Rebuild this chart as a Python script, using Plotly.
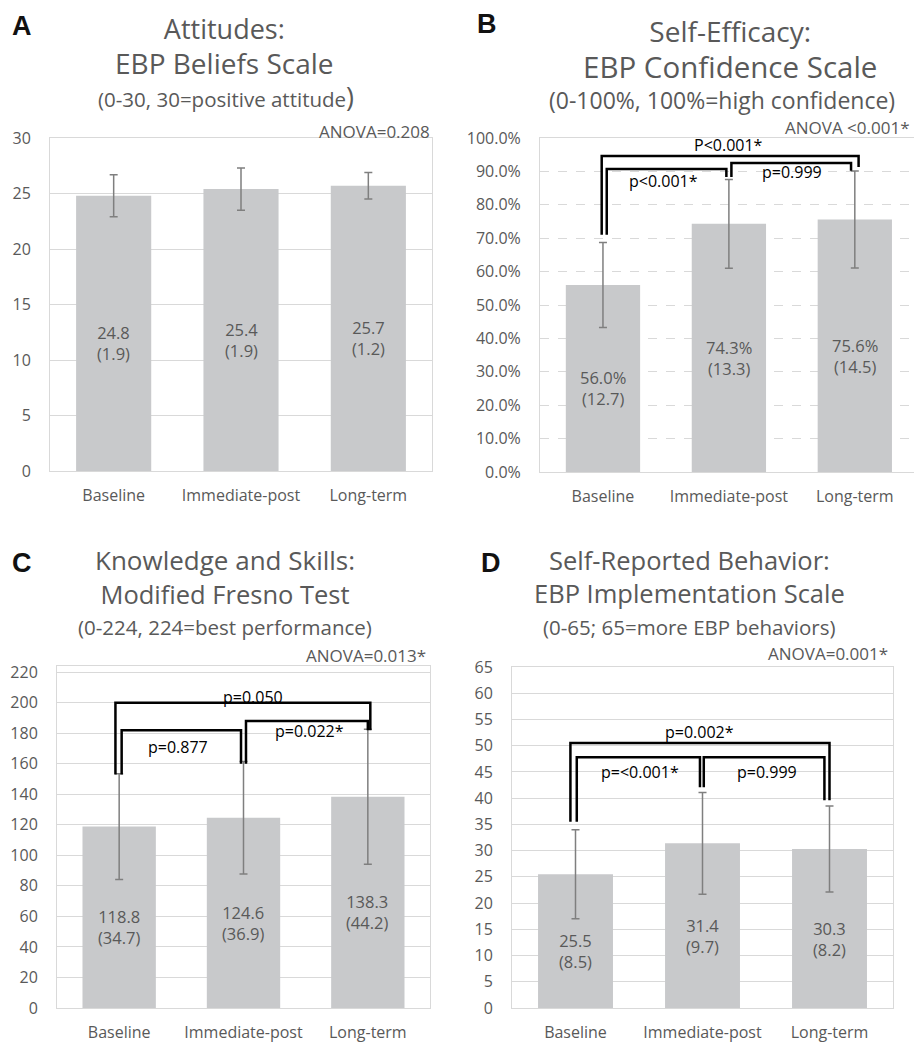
import plotly.graph_objects as go

W, H = 914, 1043

categories = ["Baseline", "Immediate-post", "Long-term"]

a_means = [24.8, 25.4, 25.7]
a_sd = [1.9, 1.9, 1.2]
b_means = [56.0, 74.3, 75.6]
b_sd = [12.7, 13.3, 14.5]
c_means = [118.8, 124.6, 138.3]
c_sd = [34.7, 36.9, 44.2]
d_means = [25.5, 31.4, 30.3]
d_sd = [8.5, 9.7, 8.2]

a_titles = ["Attitudes:", "EBP Beliefs Scale", "(0-30, 30=positive attitude<span style=\"font-size:27px\">)</span>"]
b_titles = ["Self-Efficacy:", "EBP Confidence Scale", "(0-100%, 100%=high confidence)"]
c_titles = ["Knowledge and Skills:", "Modified Fresno Test", "(0-224, 224=best performance)"]
d_titles = ["Self-Reported Behavior:", "EBP Implementation Scale", "(0-65; 65=more EBP behaviors)"]

a_anova = "ANOVA=0.208"
b_anova = "ANOVA <0.001*"
c_anova = "ANOVA=0.013*"
d_anova = "ANOVA=0.001*"

# brackets: (from, to, y_left, y_top, y_right, left_offset, right_offset)
b_brackets = [(0, 2, 71.0, 94.6, 91.3, -0.01, 0.03),
              (0, 1, 71.0, 90.7, 88.3, 0.03, -0.02),
              (1, 2, 88.3, 92.5, 90.2, 0.02, -0.03)]
b_blabels = [("P<0.001*", 1.0, 97.9), ("p<0.001*", 0.48, 87.2), ("p=0.999", 1.5, 89.8)]
c_brackets = [(0, 2, 153.0, 200.0, 182.0, -0.03, 0.02),
              (0, 1, 153.0, 182.0, 160.0, 0.02, -0.02),
              (1, 2, 160.0, 188.0, 182.0, 0.02, 0.0)]
c_blabels = [("p=0.050", 1.08, 204.0), ("p=0.877", 0.47, 171.0), ("p=0.022*", 1.53, 181.5)]
d_brackets = [(0, 2, 35.5, 50.5, 39.6, -0.04, 0.0),
              (0, 1, 35.5, 47.8, 42.1, 0.01, -0.02),
              (1, 2, 42.1, 47.8, 39.6, 0.01, -0.04)]
d_blabels = [("p=0.002*", 0.98, 52.6), ("p=<0.001*", 0.51, 45.0), ("p=0.999", 1.51, 45.0)]

FONT = "Open Sans"
GRAY = "#595959"
BAR = "#c8c9cb"
GRID = "#d9d9d9"


def px(x):
    return x / W


def py(y):
    return 1 - y / H


panels = [
    dict(means=a_means, sd=a_sd, titles=a_titles, anova=a_anova, brackets=[], blabels=[],
         xd=(50, 432), yd=(471, 138), yr=(0, 30), dtick=5, suffix="", fmt="d", griddash="solid",
         xr=(-0.5, 2.5), letter="A", lx=22, ly=26, tx=(224, 226), ty=(46, 97),
         tsize=(27, 28, 20.5), ax=(432, 131), pct=False),
    dict(means=b_means, sd=b_sd, titles=b_titles, anova=b_anova, brackets=b_brackets, blabels=b_blabels,
         xd=(540, 914), yd=(472, 138), yr=(0, 100), dtick=10, suffix="%", fmt=".1f", griddash="dash",
         xr=(-0.5, 2.47), letter="B", lx=487, ly=24, tx=(730, 722), ty=(49.5, 100),
         tsize=(28, 29.5, 23), ax=(912, 128), pct=True),
    dict(means=c_means, sd=c_sd, titles=c_titles, anova=c_anova, brackets=c_brackets, blabels=c_blabels,
         xd=(57, 430), yd=(1008, 666), yr=(0, 224), dtick=20, suffix="", fmt="d", griddash="solid",
         xr=(-0.5, 2.5), letter="C", lx=22, ly=563, tx=(224.5, 225), ty=(576.5, 627),
         tsize=(26, 25.5, 20.5), ax=(428, 655), pct=False),
    dict(means=d_means, sd=d_sd, titles=d_titles, anova=d_anova, brackets=d_brackets, blabels=d_blabels,
         xd=(512, 893), yd=(1008, 667), yr=(0, 65), dtick=5, suffix="", fmt="d", griddash="solid",
         xr=(-0.5, 2.5), letter="D", lx=491, ly=563, tx=(689, 689), ty=(576, 627),
         tsize=(25.5, 25.5, 20.5), ax=(890, 653), pct=False),
]

fig = go.Figure()
annotations = []
layout_axes = {}
xs = [0, 1, 2]

for i, p in enumerate(panels):
    n = "" if i == 0 else str(i + 1)
    xa, ya = "x" + n, "y" + n
    fig.add_trace(go.Bar(
        x=xs, y=p["means"], width=0.59, marker=dict(color=BAR, line=dict(width=0)),
        error_y=dict(type="data", array=p["sd"], visible=True, color="#7f7f7f", thickness=1.5, width=4),
        xaxis=xa, yaxis=ya, showlegend=False, hoverinfo="skip"))
    for (f, t, yl, yt, yrr, lo, ro) in p["brackets"]:
        fig.add_trace(go.Scatter(
            x=[f + lo, f + lo, t + ro, t + ro], y=[yl, yt, yt, yrr], mode="lines",
            line=dict(color="black", width=2.5), xaxis=xa, yaxis=ya, showlegend=False, hoverinfo="skip"))
    for (txt, bx, by) in p["blabels"]:
        annotations.append(dict(text=txt, x=bx, y=by, xref=xa, yref=ya, showarrow=False,
                                font=dict(family=FONT, size=16, color="black"), yanchor="middle"))
    for j, (m, s) in enumerate(zip(p["means"], p["sd"])):
        val = f"{m:.1f}%" if p["pct"] else f"{m:.1f}"
        annotations.append(dict(text=f"{val}<br>({s:.1f})", x=j, y=m / 2, xref=xa, yref=ya,
                                showarrow=False, yshift=-10,
                                font=dict(family=FONT, size=16.5, color=GRAY), yanchor="middle"))
    # two-line main title
    ts = p["tsize"]
    title_txt = (f"{p['titles'][0]}<br><span style=\"font-size:{ts[1]}px\">{p['titles'][1]}</span>")
    annotations.append(dict(text=title_txt, x=px(p["tx"][0]), y=py(p["ty"][0]), xref="paper",
                            yref="paper", showarrow=False, xanchor="center", yanchor="middle",
                            align="center", font=dict(family=FONT, size=ts[0], color=GRAY)))
    annotations.append(dict(text=p["titles"][2], x=px(p["tx"][1]), y=py(p["ty"][1]), xref="paper",
                            yref="paper", showarrow=False, xanchor="center", yanchor="middle",
                            font=dict(family=FONT, size=ts[2], color=GRAY)))
    annotations.append(dict(text=p["anova"], x=px(p["ax"][0]), y=py(p["ax"][1]), xref="paper", yref="paper",
                            showarrow=False, xanchor="right", yanchor="middle",
                            font=dict(family=FONT, size=17, color=GRAY)))
    annotations.append(dict(text="<b>" + p["letter"] + "</b>", x=px(p["lx"]), y=py(p["ly"]), xref="paper",
                            yref="paper", showarrow=False, xanchor="center", yanchor="middle",
                            font=dict(family="Liberation Sans", size=27, color="#111111")))
    layout_axes["xaxis" + n] = dict(
        domain=[px(p["xd"][0]), px(p["xd"][1])], range=list(p["xr"]), anchor=ya, automargin=False,
        tickvals=xs, ticktext=categories, showgrid=False, zeroline=False,
        showline=True, mirror=True, linecolor=GRID, linewidth=1, ticks="",
        ticklabelstandoff=10, tickfont=dict(family=FONT, size=16, color=GRAY), fixedrange=True)
    layout_axes["yaxis" + n] = dict(
        domain=[py(p["yd"][0]), py(p["yd"][1])], range=list(p["yr"]), anchor=xa, automargin=False,
        dtick=p["dtick"], tick0=0, tickformat=p["fmt"], ticksuffix=p["suffix"],
        showgrid=True, gridcolor=GRID, gridwidth=1, griddash=p["griddash"], zeroline=False,
        showline=True, mirror=True, linecolor=GRID, linewidth=1, ticks="",
        ticklabelstandoff=15, tickfont=dict(family=FONT, size=16, color=GRAY), fixedrange=True)

fig.update_layout(
    width=W, height=H, margin=dict(l=0, r=0, t=0, b=0, autoexpand=False),
    paper_bgcolor="white", plot_bgcolor="white",
    annotations=annotations, bargap=0.41, **layout_axes)

post = ("document.body.style.margin='0';document.body.style.overflow='hidden';")
fig.write_html("out.html", config={"responsive": False, "displayModeBar": False}, post_script=post)
